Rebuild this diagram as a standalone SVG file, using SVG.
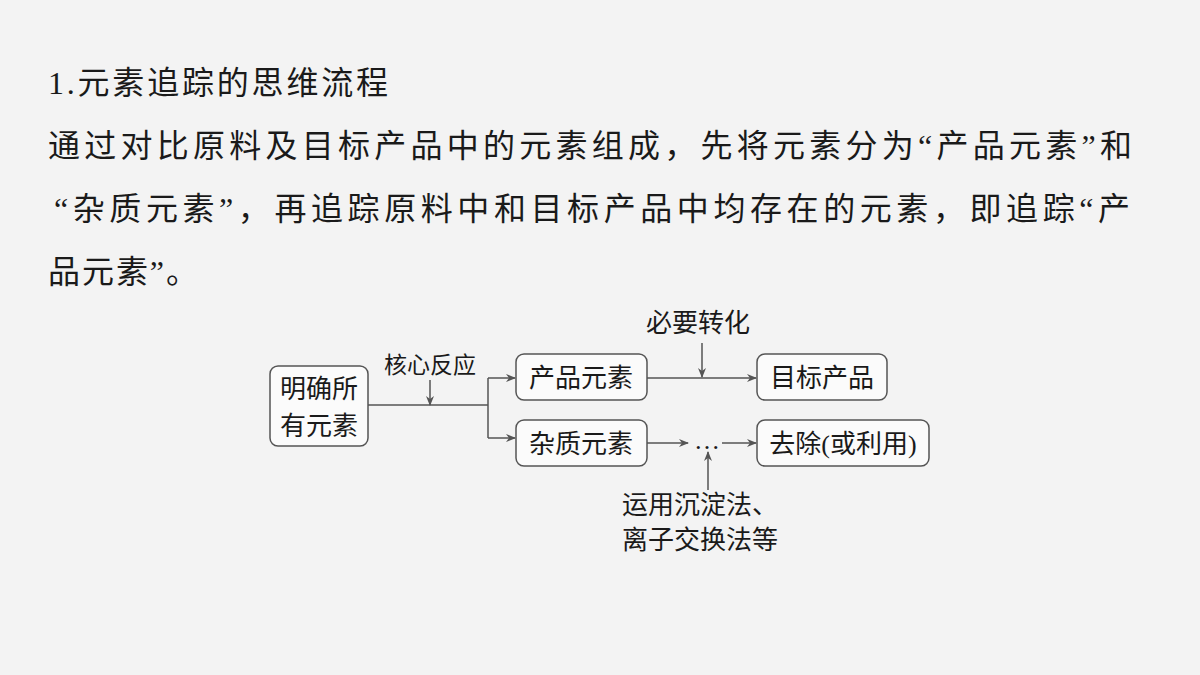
<svg xmlns="http://www.w3.org/2000/svg" width="1200" height="675" viewBox="0 0 1200 675">
<defs>
<marker id="ah" markerWidth="10" markerHeight="8" refX="9" refY="4" orient="auto" markerUnits="userSpaceOnUse"><path d="M0,0 L10,4 L0,8 L3,4 Z" fill="#555"/></marker>
</defs>
<style>
.t{font-family:"Liberation Serif","Noto Sans CJK SC",serif;fill:#1a1a1a}
.h{font-size:32px}
.d{font-size:26px}
.box{fill:#fbfbfb;stroke:#555;stroke-width:1.5}
.ln{fill:none;stroke:#555;stroke-width:1.5}
</style>
<rect width="1200" height="675" fill="#f3f3f3"/>
<text class="t h" x="48" y="94" textLength="340" lengthAdjust="spacing">1.元素追踪的思维流程</text>
<text class="t h" x="48" y="157" textLength="1084" lengthAdjust="spacing">通过对比原料及目标产品中的元素组成，先将元素分为“产品元素”和</text>
<text class="t h" x="54" y="220" textLength="1076" lengthAdjust="spacing">“杂质元素”，再追踪原料中和目标产品中均存在的元素，即追踪“产</text>
<text class="t h" x="48" y="283" textLength="150" lengthAdjust="spacing">品元素”。</text>
<g id="n1"><rect class="box" x="270" y="366" width="98" height="80" rx="8"/><text class="t d" x="319" y="398" text-anchor="middle">明确所</text><text class="t d" x="319" y="435" text-anchor="middle">有元素</text></g>
<g id="n2"><rect class="box" x="516" y="354" width="131" height="46" rx="8"/><text class="t d" x="581" y="387" text-anchor="middle">产品元素</text></g>
<g id="n3"><rect class="box" x="757" y="354" width="130" height="46" rx="8"/><text class="t d" x="822" y="387" text-anchor="middle">目标产品</text></g>
<g id="n4"><rect class="box" x="516" y="420" width="131" height="46" rx="8"/><text class="t d" x="581" y="453" text-anchor="middle">杂质元素</text></g>
<g id="n5"><rect class="box" x="757" y="420" width="172" height="46" rx="8"/><text class="t d" x="843" y="453" text-anchor="middle">去除(或利用)</text></g>
<g id="labels">
<text class="t" font-size="23" x="430" y="373" text-anchor="middle">核心反应</text>
<text class="t d" x="698" y="332" text-anchor="middle">必要转化</text>
<text class="t d" x="622" y="514">运用沉淀法、</text>
<text class="t d" x="622" y="549">离子交换法等</text>
<text class="t d" x="707" y="449" text-anchor="middle">…</text>
</g>
<g id="connectors">
<path class="ln" d="M368,405 H488"/>
<path class="ln" d="M488,378 V438"/>
<path class="ln" d="M488,378 H515" marker-end="url(#ah)"/>
<path class="ln" d="M488,438 H515" marker-end="url(#ah)"/>
<path class="ln" d="M430,380 V405" marker-end="url(#ah)"/>
<path class="ln" d="M647,378 H756" marker-end="url(#ah)"/>
<path class="ln" d="M702,343 V377" marker-end="url(#ah)"/>
<path class="ln" d="M647,443 H688" marker-end="url(#ah)"/>
<path class="ln" d="M722,443 H756" marker-end="url(#ah)"/>
<path class="ln" d="M708,490 V452" marker-end="url(#ah)"/>
</g>
</svg>
